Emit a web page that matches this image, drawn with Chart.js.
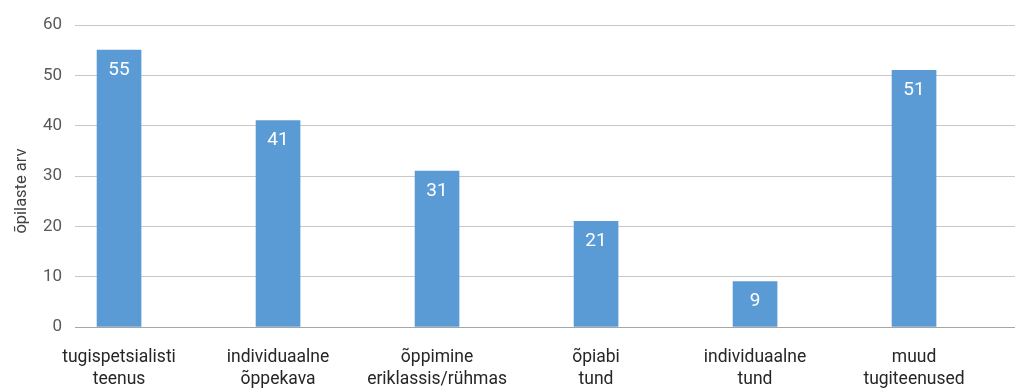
<!DOCTYPE html>
<html>
<head>
<meta charset="utf-8">
<script src="https://cdn.jsdelivr.net/npm/chart.js@4"></script>
<style>
  html, body { margin: 0; padding: 0; background: #fff; }
  #wrap { width: 1015px; height: 388px; }
</style>
</head>
<body>
<div id="wrap"><canvas id="chart"></canvas></div>
<script>
const categories = [
  ['tugispetsialisti', 'teenus'],
  ['individuaalne', 'õppekava'],
  ['õppimine', 'eriklassis/rühmas'],
  ['õpiabi', 'tund'],
  ['individuaalne', 'tund'],
  ['muud', 'tugiteenused']
];
const students = [55, 41, 31, 21, 9, 51];
const yTicks = [0, 10, 20, 30, 40, 50, 60];

const FONT = 'Roboto, "Liberation Sans", sans-serif';

// white value inside the top of each bar
const barValues = {
  id: 'barValues',
  afterDatasetsDraw(chart) {
    const ctx = chart.ctx;
    const meta = chart.getDatasetMeta(0);
    ctx.save();
    ctx.fillStyle = '#ffffff';
    ctx.font = '19px ' + FONT;
    ctx.textAlign = 'center';
    ctx.textBaseline = 'middle';
    meta.data.forEach((bar, i) => {
      ctx.fillText(String(students[i]), bar.x, bar.y + 20);
    });
    ctx.restore();
  }
};

// rotated y axis title
const yTitle = {
  id: 'yTitle',
  afterDraw(chart) {
    const ctx = chart.ctx;
    ctx.save();
    ctx.translate(22, 191);
    ctx.rotate(-Math.PI / 2);
    ctx.fillStyle = '#404040';
    ctx.font = '16.5px ' + FONT;
    ctx.textAlign = 'center';
    ctx.textBaseline = 'middle';
    ctx.fillText('õpilaste arv', 0, 0);
    ctx.restore();
  }
};

new Chart(document.getElementById('chart'), {
  type: 'bar',
  data: {
    datasets: [{
      data: students.map((v, i) => ({ x: i, y: v })),
      backgroundColor: '#5b9bd5',
      barThickness: 44
    }]
  },
  options: {
    responsive: true,
    maintainAspectRatio: false,
    animation: false,
    layout: { padding: { top: 25, right: 0, left: 0, bottom: 0 } },
    plugins: { legend: { display: false }, tooltip: { enabled: false } },
    scales: {
      x: {
        type: 'linear',
        offset: false,
        min: -0.277,
        max: 5.635,
        afterBuildTicks: scale => { scale.ticks = categories.map((c, i) => ({ value: i })); },
        afterFit: scale => { scale.height = 61; },
        grid: { display: false, offset: false },
        border: { display: false },
        ticks: {
          autoSkip: false,
          maxRotation: 0,
          padding: 12,
          color: '#262626',
          font: { family: FONT, size: 17.5, lineHeight: 1.25 },
          callback: v => categories[v]
        }
      },
      y: {
        min: 0,
        max: 60,
        afterBuildTicks: scale => { scale.ticks = yTicks.map(v => ({ value: v })); },
        afterFit: scale => { scale.width = 75; },
        border: { display: false },
        grid: {
          drawTicks: false,
          color: ctx => ctx.tick.value === 0 ? '#a6a6a6' : '#c8c8c8',
          lineWidth: 1
        },
        ticks: {
          padding: 13,
          color: '#595959',
          font: { family: FONT, size: 17 }
        }
      }
    }
  },
  plugins: [barValues, yTitle]
});
</script>
</body>
</html>
